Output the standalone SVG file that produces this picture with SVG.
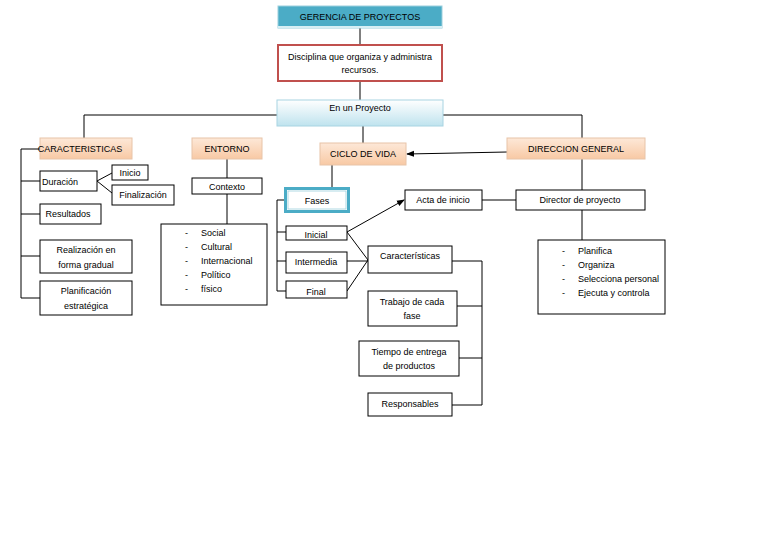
<svg xmlns="http://www.w3.org/2000/svg" width="768" height="544" viewBox="0 0 768 544">
<style>
text{font-family:"Liberation Sans",Arial,sans-serif;font-size:9px;fill:#000;text-anchor:middle}
.l{text-anchor:start}
.b{fill:#fff;stroke:#000;stroke-width:1}
.o{fill:url(#og);stroke:#e8c4a8;stroke-width:1}
.c path,.c line{stroke:#000;stroke-width:1;fill:none}
</style>
<defs>
<linearGradient id="og" x1="0" y1="0" x2="0" y2="1"><stop offset="0" stop-color="#fde8d8"/><stop offset="1" stop-color="#f8c9a4"/></linearGradient>
<linearGradient id="bg" x1="0" y1="0" x2="0" y2="1"><stop offset="0" stop-color="#ffffff"/><stop offset="1" stop-color="#bfe3ee"/></linearGradient>
<marker id="a" markerWidth="8" markerHeight="8" refX="7" refY="4" orient="auto" markerUnits="userSpaceOnUse"><path d="M0,1 L8,4 L0,7 z" fill="#000"/></marker>
</defs>
<rect width="768" height="544" fill="#fff"/>
<g class="c">
<path d="M360,28V44M360,82V100M84,138V115H277M443,115H582V138M363,126V143M227,159V178M227,194V224"/>
<path d="M40,149H21V298H40M21,181H40M21,214H40M21,256H40M97,181L112,173M97,181L112,193"/>
<path d="M332,165V188M285,200H277V291H286M277,232H286M277,261H286"/>
<line x1="347" y1="232" x2="404" y2="200" marker-end="url(#a)"/>
<line x1="507" y1="152" x2="407" y2="154" marker-end="url(#a)"/>
<path d="M482,200H516M582,159V190M582,210V240"/>
<path d="M347,232L368,260M347,261H368M347,291L368,260"/>
<path d="M452,261H482V405H452M457,306H482M459,358H482"/>
</g>
<g id="gerencia"><rect x="278" y="6" width="164" height="22" fill="#4bacc6" stroke="#9ccfdd"/><rect x="278" y="26" width="164" height="2" fill="#d6eef4"/><text x="360" y="20">GERENCIA DE PROYECTOS</text></g>
<g id="disciplina"><rect x="278" y="45" width="164" height="36" fill="#fff" stroke="#c0504d" stroke-width="2"/><text x="360" y="60">Disciplina que organiza y administra</text><text x="360" y="73">recursos.</text></g>
<g id="proyecto"><rect x="277" y="100" width="166" height="26" fill="url(#bg)" stroke="#a8d4e2"/><text x="360" y="111">En un Proyecto</text></g>
<g id="caracteristicas"><rect class="o" x="40" y="138" width="92" height="21"/><text x="80" y="152">CARACTERISTICAS</text></g>
<g id="entorno"><rect class="o" x="192" y="138" width="70" height="21"/><text x="227" y="152">ENTORNO</text></g>
<g id="ciclo"><rect class="o" x="320" y="143" width="86" height="22"/><text x="363" y="157">CICLO DE VIDA</text></g>
<g id="direccion"><rect class="o" x="507" y="138" width="138" height="21"/><text x="576" y="152">DIRECCION GENERAL</text></g>
<g id="duracion"><rect class="b" x="40" y="171" width="57" height="20"/><text x="60" y="185">Duración</text></g>
<g id="inicio"><rect class="b" x="112" y="165" width="36" height="15"/><text x="130" y="176">Inicio</text></g>
<g id="finalizacion"><rect class="b" x="112" y="185" width="62" height="20"/><text x="143" y="198">Finalización</text></g>
<g id="resultados"><rect class="b" x="40" y="204" width="61" height="20"/><text x="68" y="217">Resultados</text></g>
<g id="realizacion"><rect class="b" x="40" y="240" width="92" height="33"/><text x="86" y="253">Realización en</text><text x="86" y="268">forma gradual</text></g>
<g id="planificacion"><rect class="b" x="40" y="281" width="92" height="34"/><text x="86" y="294">Planificación</text><text x="86" y="309">estratégica</text></g>
<g id="contexto"><rect class="b" x="192" y="178" width="70" height="16"/><text x="227" y="190">Contexto</text></g>
<g id="entornolist"><rect class="b" x="161" y="224" width="106" height="81"/>
<text class="l" x="185" y="236">-</text><text class="l" x="201" y="236">Social</text>
<text class="l" x="185" y="250">-</text><text class="l" x="201" y="250">Cultural</text>
<text class="l" x="185" y="264">-</text><text class="l" x="201" y="264">Internacional</text>
<text class="l" x="185" y="278">-</text><text class="l" x="201" y="278">Político</text>
<text class="l" x="185" y="292">-</text><text class="l" x="201" y="292">físico</text></g>
<g id="fases"><rect x="285.5" y="188.5" width="63" height="23" fill="#fff" stroke="#4bacc6" stroke-width="3"/><rect x="288" y="191" width="58" height="18" fill="none" stroke="#9ccfdd" stroke-width="0.8"/><text x="317" y="204">Fases</text></g>
<g id="inicial"><rect class="b" x="286" y="226" width="61" height="14"/><text x="316" y="238">Inicial</text></g>
<g id="intermedia"><rect class="b" x="286" y="252" width="61" height="21"/><text x="316" y="265">Intermedia</text></g>
<g id="final"><rect class="b" x="286" y="281" width="61" height="17"/><text x="316" y="295">Final</text></g>
<g id="acta"><rect class="b" x="405" y="190" width="77" height="20"/><text x="443" y="203">Acta de inicio</text></g>
<g id="director"><rect class="b" x="516" y="190" width="129" height="20"/><text x="580" y="203">Director de proyecto</text></g>
<g id="direclist"><rect class="b" x="538" y="240" width="127" height="74"/>
<text class="l" x="562" y="254">-</text><text class="l" x="578" y="254">Planifica</text>
<text class="l" x="562" y="268">-</text><text class="l" x="578" y="268">Organiza</text>
<text class="l" x="562" y="282">-</text><text class="l" x="578" y="282">Selecciona personal</text>
<text class="l" x="562" y="296">-</text><text class="l" x="578" y="296">Ejecuta y controla</text></g>
<g id="caract2"><rect class="b" x="368" y="246" width="84" height="27"/><text x="410" y="259">Características</text></g>
<g id="trabajo"><rect class="b" x="368" y="291" width="89" height="35"/><text x="412" y="305">Trabajo de cada</text><text x="412" y="319">fase</text></g>
<g id="tiempo"><rect class="b" x="359" y="341" width="100" height="35"/><text x="409" y="355">Tiempo de entrega</text><text x="409" y="369">de productos</text></g>
<g id="responsables"><rect class="b" x="368" y="393" width="84" height="23"/><text x="410" y="407">Responsables</text></g>
</svg>
